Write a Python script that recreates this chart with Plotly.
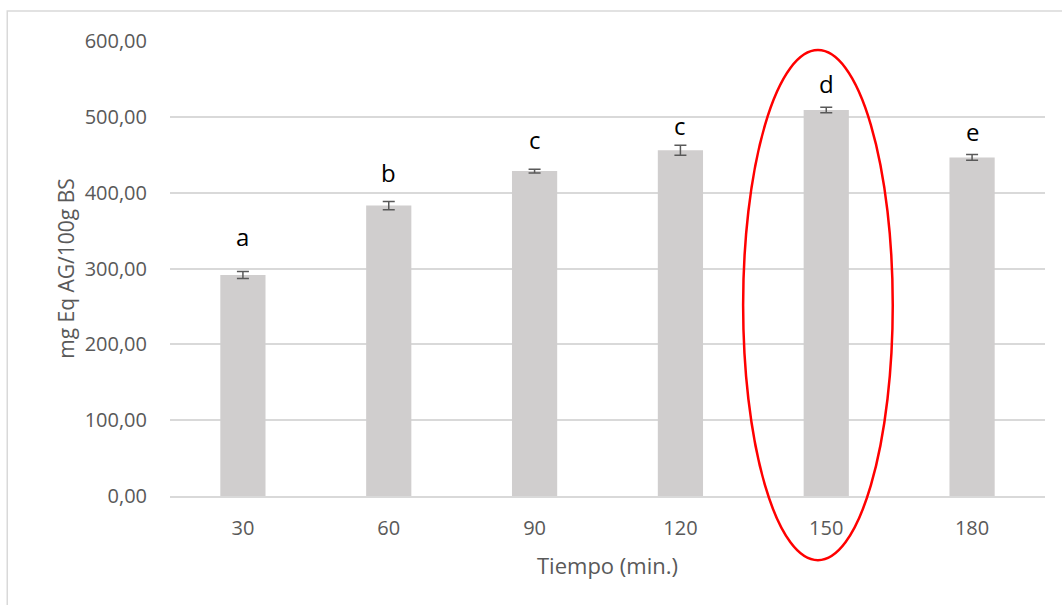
import plotly.graph_objects as go

# Data
categories = ["30", "60", "90", "120", "150", "180"]
values = [291.5, 383.0, 428.5, 456.0, 509.0, 446.5]
errors = [4.6, 5.5, 2.5, 6.5, 3.7, 3.8]
letters = ["a", "b", "c", "c", "d", "e"]
y_ticks = [0, 100, 200, 300, 400, 500, 600]
y_tick_labels = ["0,00", "100,00", "200,00", "300,00", "400,00", "500,00", "600,00"]

# Style (pixel offsets of letters above the error bars)
letter_shift = [35, 29, 30, 20, 24, 23]

FONT = "Open Sans"
GREY_TXT = "#595959"

fig = go.Figure()
fig.add_trace(go.Bar(
    x=categories, y=values,
    marker=dict(color="#d0cece", line=dict(width=0)),
    width=0.31,
    error_y=dict(type="data", array=errors, visible=True,
                 color="#595959", thickness=1.5, width=6),
    hoverinfo="skip",
))

for i, (v, e, t, s) in enumerate(zip(values, errors, letters, letter_shift)):
    fig.add_annotation(x=i, y=v + e, text=t, showarrow=False,
                       xref="x", yref="y",
                       yanchor="middle", yshift=s,
                       font=dict(family=FONT, size=24, color="#000000"))

# Red ellipse highlight
fig.add_shape(type="circle", xref="paper", yref="paper",
              x0=0.655, x1=0.826, y0=-0.141, y1=0.980,
              line=dict(color="#ff0000", width=2.5), layer="above")

# Chart border
fig.add_shape(type="rect", xref="paper", yref="paper",
              x0=-0.186, x1=1.2, y0=-0.5, y1=1.066,
              line=dict(color="#d9d9d9", width=1.5), layer="below")

fig.update_layout(
    width=1062, height=605,
    margin=dict(l=170, r=17, t=41, b=109),
    plot_bgcolor="white", paper_bgcolor="white",
    showlegend=False,
    font=dict(family=FONT, color=GREY_TXT),
    xaxis=dict(
        type="category", categoryorder="array", categoryarray=categories,
        range=[-0.5, len(categories) - 0.5],
        showgrid=False, showline=True, linecolor="#d9d9d9", linewidth=1.5,
        ticks="", tickfont=dict(family=FONT, size=20, color=GREY_TXT),
        tickangle=0,
        ticklabelstandoff=13,
        title=dict(text="Tiempo (min.)", standoff=19,
                   font=dict(family=FONT, size=22, color=GREY_TXT)),
    ),
    yaxis=dict(
        range=[0, 600],
        tickvals=y_ticks, ticktext=y_tick_labels,
        showgrid=True, gridcolor="#d9d9d9", gridwidth=1.5,
        zeroline=False, showline=False,
        ticks="", tickfont=dict(family=FONT, size=20, color=GREY_TXT),
        ticklabelstandoff=22,
        title=dict(text="mg Eq AG/100g BS", standoff=4,
                   font=dict(family=FONT, size=21, color=GREY_TXT)),
    ),
)

fig.write_html("out.html")
